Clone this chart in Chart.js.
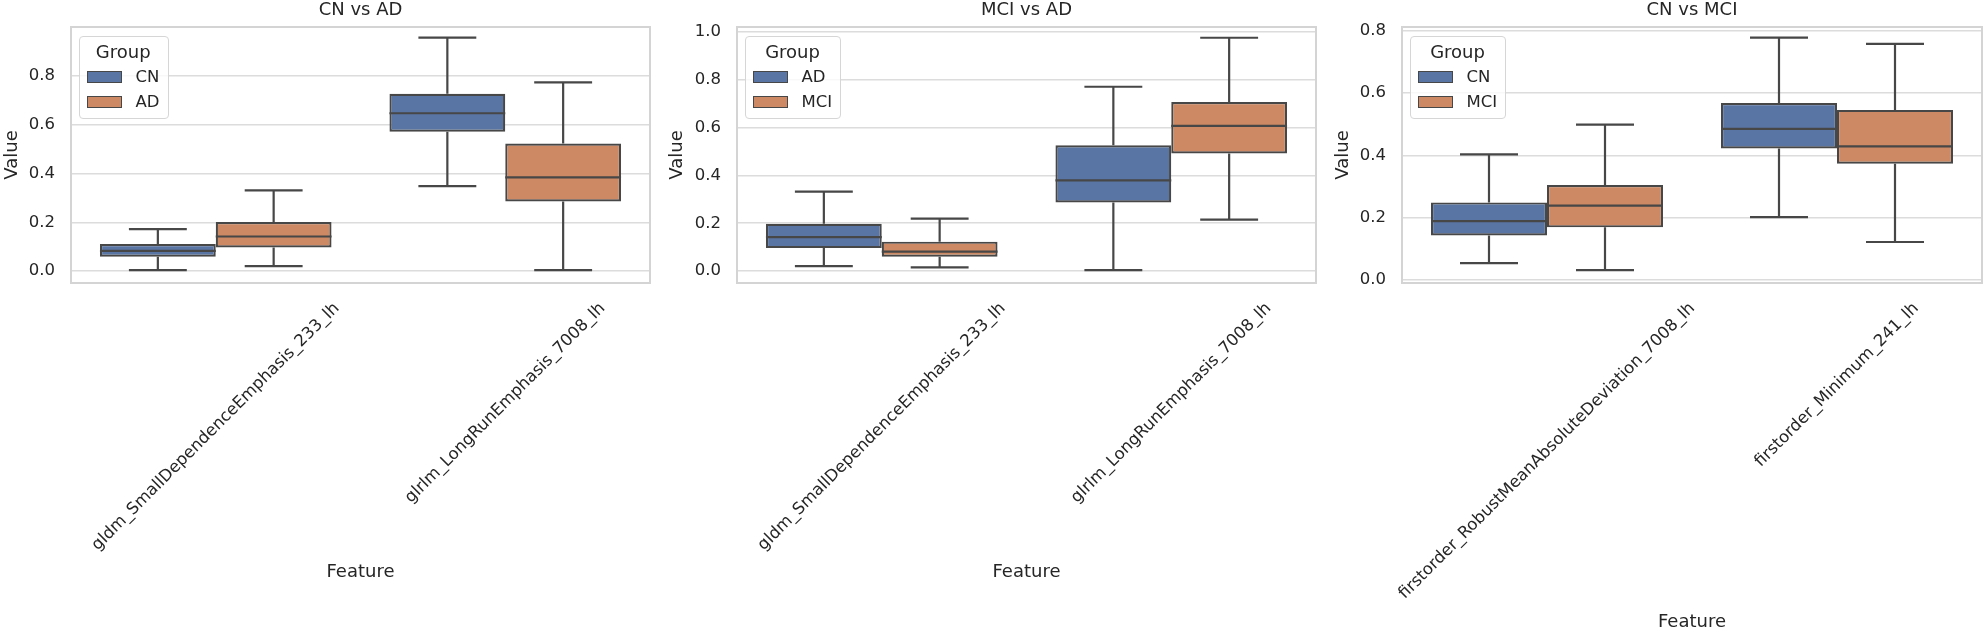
<!DOCTYPE html>
<html>
<head>
<meta charset="utf-8">
<script src="https://cdn.jsdelivr.net/npm/chart.js@4.4.0/dist/chart.umd.min.js"></script>
<style>
html, body { margin: 0; padding: 0; background: #ffffff; }
#wrap { position: relative; width: 1985px; height: 633px; overflow: hidden; font-family: "DejaVu Sans", sans-serif; color: #262626; }
canvas { position: absolute; top: 0; }
.legend { position: absolute; box-sizing: border-box; background: rgba(255,255,255,0.8); border: 1px solid #d6d6d6; border-radius: 4px; padding: 4px 8px 4px 7px; }
.legend .lt { height: 22px; line-height: 22px; font-size: 18px; text-align: center; }
.legend .row { height: 25px; display: flex; align-items: center; }
.legend .row.first { margin-top: 1px; }
.legend .sw { width: 35px; height: 12px; box-sizing: border-box; border: 1px solid #474747; margin-right: 13.5px; flex: none; }
.legend .lb { font-size: 16.5px; line-height: 25px; white-space: nowrap; }
</style>
</head>
<body>
<div id="wrap">
  <canvas id="c1" width="660" height="633" style="left:0px"></canvas>
  <canvas id="c2" width="665" height="633" style="left:660px"></canvas>
  <canvas id="c3" width="660" height="633" style="left:1325px"></canvas>
</div>
<script>
// ---------------- data ----------------
const titleCnAd = 'CN vs AD';
const titleMciAd = 'MCI vs AD';
const titleCnMci = 'CN vs MCI';

const featuresCnAd = ['gldm_SmallDependenceEmphasis_233_lh', 'glrlm_LongRunEmphasis_7008_lh'];
const featuresMciAd = ['gldm_SmallDependenceEmphasis_233_lh', 'glrlm_LongRunEmphasis_7008_lh'];
const featuresCnMci = ['firstorder_RobustMeanAbsoluteDeviation_7008_lh', 'firstorder_Minimum_241_lh'];

const groupsCnAd = ['CN', 'AD'];
const groupsMciAd = ['AD', 'MCI'];
const groupsCnMci = ['CN', 'MCI'];

// five-number summaries per feature: [lower whisker, Q1, median, Q3, upper whisker]
const cnAd_CN = [[0.004, 0.059, 0.083, 0.111, 0.172], [0.349, 0.572, 0.648, 0.728, 0.958]];
const cnAd_AD = [[0.020, 0.097, 0.142, 0.201, 0.331], [0.004, 0.286, 0.385, 0.524, 0.775]];
const mciAd_AD = [[0.021, 0.096, 0.142, 0.198, 0.332], [0.004, 0.287, 0.379, 0.526, 0.771]];
const mciAd_MCI = [[0.015, 0.060, 0.081, 0.123, 0.219], [0.215, 0.492, 0.607, 0.707, 0.976]];
const cnMci_CN = [[0.054, 0.143, 0.189, 0.249, 0.403], [0.202, 0.422, 0.485, 0.568, 0.778]];
const cnMci_MCI = [[0.032, 0.169, 0.239, 0.305, 0.499], [0.122, 0.373, 0.429, 0.546, 0.758]];

const yTicksCnAd = [0.0, 0.2, 0.4, 0.6, 0.8];
const yTicksMciAd = [0.0, 0.2, 0.4, 0.6, 0.8, 1.0];
const yTicksCnMci = [0.0, 0.2, 0.4, 0.6, 0.8];

const yRangeCnAd = [-0.049, 1.002];
const yRangeMciAd = [-0.050, 1.021];
const yRangeCnMci = [-0.0096, 0.812];

const xTitle = 'Feature';
const yTitle = 'Value';
const legendTitle = 'Group';

// ---------------- style ----------------
const FONT = '"DejaVu Sans", sans-serif';
const TEXT = '#262626';
const COLORS = ['#5975a4', '#cc8963'];
const EDGE = '#474747';
const LW = 2.2;
const TICK_SIZE = 16.5;

const whiskerPlugin = {
  id: 'whiskers',
  afterDatasetsDraw(chart) {
    const ctx = chart.ctx, y = chart.scales.y;
    chart.data.datasets.forEach((ds, di) => {
      const meta = chart.getDatasetMeta(di);
      meta.data.forEach((bar, j) => {
        const s = ds.stats[j];
        const cx = bar.x, half = bar.width / 2;
        const p = s.map(v => y.getPixelForValue(v));
        ctx.save();
        ctx.strokeStyle = EDGE; ctx.lineWidth = LW; ctx.lineCap = 'butt';
        ctx.beginPath();
        ctx.moveTo(cx, p[1]); ctx.lineTo(cx, p[0]);
        ctx.moveTo(cx, p[3]); ctx.lineTo(cx, p[4]);
        ctx.moveTo(cx - half / 2, p[0]); ctx.lineTo(cx + half / 2, p[0]);
        ctx.moveTo(cx - half / 2, p[4]); ctx.lineTo(cx + half / 2, p[4]);
        ctx.moveTo(cx - half, p[2]); ctx.lineTo(cx + half, p[2]);
        ctx.stroke();
        ctx.restore();
      });
    });
  }
};

const framePlugin = {
  id: 'frame',
  afterDraw(chart) {
    const a = chart.chartArea, ctx = chart.ctx;
    ctx.save();
    ctx.strokeStyle = '#d4d4d4'; ctx.lineWidth = 2;
    ctx.strokeRect(a.left, a.top, a.right - a.left, a.bottom - a.top);
    ctx.restore();
  }
};

// rotated (45°) category labels, centred on their tick like matplotlib's rotation=45
const xLabelPlugin = {
  id: 'xlabels',
  afterDraw(chart, args, opts) {
    const xs = chart.scales.x, ctx = chart.ctx;
    const size = TICK_SIZE;
    chart.data.labels.forEach((lab, i) => {
      ctx.save();
      ctx.font = size + 'px ' + FONT;
      ctx.fillStyle = TEXT;
      const x = xs.getPixelForTick(i);
      const w = ctx.measureText(lab).width;
      const h = size * 1.17;
      const H = (w + h) * Math.SQRT1_2;
      const cy = chart.chartArea.bottom + opts.pad + H / 2;
      ctx.translate(x, cy);
      ctx.rotate(-Math.PI / 4);
      ctx.textAlign = 'center';
      ctx.textBaseline = 'middle';
      ctx.fillText(lab, 0, 0);
      ctx.restore();
    });
  }
};

function makeChart(id, title, features, groups, stats, yRange, yTicks, geo) {
  const datasets = groups.map((g, gi) => ({
    label: g,
    data: stats[gi].map(s => [s[1], s[3]]),
    stats: stats[gi],
    backgroundColor: COLORS[gi],
    borderColor: EDGE,
    borderWidth: LW,
    borderSkipped: false,
    categoryPercentage: 0.8,
    barPercentage: 1.0
  }));
  return new Chart(document.getElementById(id), {
    type: 'bar',
    data: { labels: features, datasets },
    plugins: [whiskerPlugin, framePlugin, xLabelPlugin],
    options: {
      responsive: false,
      animation: false,
      layout: { padding: { left: 0, right: geo.right, top: 0, bottom: 0 } },
      plugins: {
        legend: { display: false },
        tooltip: { enabled: false },
        title: {
          display: true, text: title, fullSize: false, color: TEXT,
          font: { family: FONT, size: 18, weight: 'normal', lineHeight: 1.2 },
          padding: { top: 0, bottom: 5.4 }
        },
        xlabels: { pad: geo.labelPad }
      },
      scales: {
        x: {
          afterFit: s => { s.height = 350; },
          ticks: { display: false },
          grid: { display: false },
          border: { display: false },
          title: {
            display: true, text: xTitle, color: TEXT,
            font: { family: FONT, size: 18, lineHeight: 1.2 },
            padding: { top: 0, bottom: geo.featurePad }
          }
        },
        y: {
          min: yRange[0], max: yRange[1],
          afterBuildTicks: s => { s.ticks = yTicks.map(v => ({ value: v })); },
          afterFit: s => { s.width = geo.yWidth; },
          ticks: {
            color: TEXT, padding: 16,
            font: { family: FONT, size: TICK_SIZE },
            callback: v => Number(v).toFixed(1)
          },
          grid: { color: '#dcdcdc', lineWidth: 1.5, drawTicks: false },
          border: { display: false },
          title: {
            display: true, text: yTitle, color: TEXT,
            font: { family: FONT, size: 18, lineHeight: 1.2 },
            padding: { top: geo.valuePad, bottom: 0 }
          }
        }
      }
    }
  });
}

function addLegend(chart, canvasLeft, groups) {
  const a = chart.chartArea;
  const div = document.createElement('div');
  div.className = 'legend';
  div.style.left = (canvasLeft + a.left + 8) + 'px';
  div.style.top = (a.top + 9) + 'px';
  let html = '<div class="lt">' + legendTitle + '</div>';
  groups.forEach((g, gi) => {
    html += '<div class="row' + (gi === 0 ? ' first' : '') + '"><div class="sw" style="background:' + COLORS[gi] + '"></div><div class="lb">' + g + '</div></div>';
  });
  div.innerHTML = html;
  document.getElementById('wrap').appendChild(div);
}

const ch1 = makeChart('c1', titleCnAd, featuresCnAd, groupsCnAd, [cnAd_CN, cnAd_AD], yRangeCnAd, yTicksCnAd,
  { right: 10, yWidth: 71, valuePad: 1.2, featurePad: 49.5, labelPad: 16 });
const ch2 = makeChart('c2', titleMciAd, featuresMciAd, groupsMciAd, [mciAd_AD, mciAd_MCI], yRangeMciAd, yTicksMciAd,
  { right: 9, yWidth: 77, valuePad: 6.2, featurePad: 49.5, labelPad: 16 });
const ch3 = makeChart('c3', titleCnMci, featuresCnMci, groupsCnMci, [cnMci_CN, cnMci_MCI], yRangeCnMci, yTicksCnMci,
  { right: 3, yWidth: 77, valuePad: 7.2, featurePad: 0, labelPad: 16 });

addLegend(ch1, 0, groupsCnAd);
addLegend(ch2, 660, groupsMciAd);
addLegend(ch3, 1325, groupsCnMci);
</script>
</body>
</html>
